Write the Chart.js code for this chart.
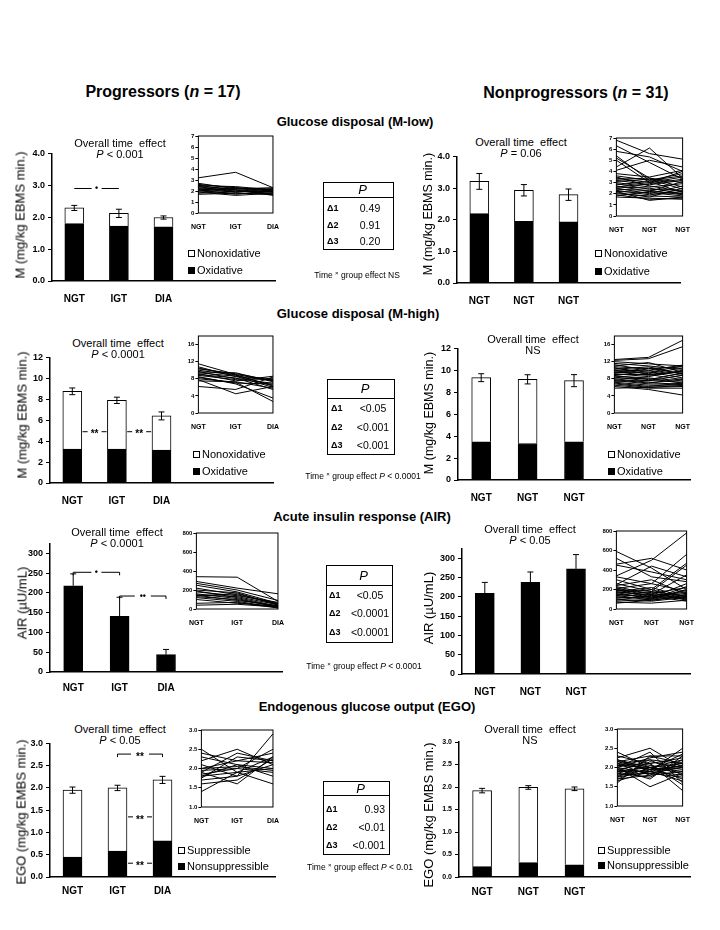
<!DOCTYPE html>
<html>
<head>
<meta charset="utf-8">
<script src="https://cdn.jsdelivr.net/npm/chart.js@4.4.1/dist/chart.umd.min.js"></script>
<style>
  body { margin: 0; background: #fff; }
  #page { position: relative; width: 720px; height: 930px; overflow: hidden; background: #fff;
          font-family: "Liberation Sans", Arial, Helvetica, sans-serif; color: #000; }
  .t { position: absolute; white-space: nowrap; line-height: 1; }
  .sq { position: absolute; width: 7px; height: 7px; border: 1px solid #000; box-sizing: border-box; }
  .tbl { position: absolute; border: 1px solid #000; box-sizing: border-box; }
  .hl { position: absolute; height: 0; border-top: 1px solid #000; }
  canvas { position: absolute; }
</style>
</head>
<body>
<div id="page"></div>
<script>
// ---- data -------------------------------------------------------------
const progCats = ['NGT', 'IGT', 'DIA'];
const nonprogCats = ['NGT', 'NGT', 'NGT'];

// Glucose disposal, M-low (mg/kg EBMS min)
const progMLowTotal = [2.29, 2.12, 1.99];
const progMLowOx = [1.80, 1.72, 1.70];
const progMLowErr = [0.08, 0.13, 0.05];
const nonprogMLowTotal = [3.21, 2.93, 2.79];
const nonprogMLowOx = [2.19, 1.95, 1.93];
const nonprogMLowErr = [0.25, 0.18, 0.18];

// Glucose disposal, M-high
const progMHighTotal = [8.76, 7.90, 6.41];
const progMHighOx = [3.24, 3.24, 3.14];
const progMHighErr = [0.32, 0.30, 0.38];
const nonprogMHighTotal = [9.33, 9.18, 9.06];
const nonprogMHighOx = [3.48, 3.33, 3.48];
const nonprogMHighErr = [0.36, 0.42, 0.55];

// Acute insulin response (µU/mL)
const progAir = [218, 141, 44];
const progAirErr = [30, 48, 13];
const nonprogAir = [209, 237, 272];
const nonprogAirErr = [28, 27, 37];

// Endogenous glucose output
const progEgoTotal = [1.95, 2.00, 2.18];
const progEgoNonsup = [0.45, 0.58, 0.81];
const progEgoErr = [0.07, 0.06, 0.08];
const nonprogEgoTotal = [1.92, 1.99, 1.96];
const nonprogEgoNonsup = [0.23, 0.32, 0.27];
const nonprogEgoErr = [0.05, 0.04, 0.04];

// individual subjects (insets)
const progMLowSubjects = [
  [3.2, 3.7, 2.3], [2.7, 2.2, 2.0], [2.6, 2.3, 2.1], [2.5, 2.1, 1.9], [2.4, 2.2, 2.2],
  [2.3, 2.0, 1.8], [2.2, 1.9, 2.0], [2.1, 2.3, 2.0], [2.0, 1.8, 1.7], [1.9, 1.6, 1.8],
  [1.8, 2.0, 1.9], [2.5, 2.4, 2.1], [2.2, 2.1, 1.6], [2.0, 2.2, 2.3], [1.7, 1.8, 1.7],
  [2.4, 1.9, 2.2], [2.1, 1.7, 2.0]
];
const nonprogMLowSubjects = [
  [6.8, 5.6, 5.1], [6.3, 4.8, 3.3], [5.8, 5.3, 4.0], [5.4, 3.2, 3.6], [5.2, 3.4, 3.0],
  [5.0, 3.0, 4.0], [4.4, 6.1, 3.4], [4.1, 5.0, 4.4], [3.8, 3.5, 4.1], [3.6, 3.2, 3.8],
  [3.4, 3.0, 3.5], [3.3, 3.4, 2.6], [3.2, 2.8, 3.2], [3.1, 3.3, 2.4], [3.0, 2.6, 2.9],
  [2.9, 2.4, 2.3], [2.8, 3.1, 2.1], [2.7, 2.2, 3.1], [2.6, 2.5, 2.0], [2.5, 2.0, 2.7],
  [2.4, 2.3, 1.9], [2.3, 1.9, 2.2], [2.2, 2.1, 1.8], [2.1, 1.7, 2.5], [2.0, 1.8, 1.7],
  [1.9, 1.5, 1.6], [1.8, 2.2, 2.0], [1.7, 1.6, 1.5], [2.6, 2.9, 3.3], [3.5, 2.7, 2.2],
  [2.2, 1.4, 1.7]
];
const progMHighSubjects = [
  [11.5, 9.0, 7.5], [10.8, 8.5, 8.0], [10.3, 9.2, 7.6], [10.0, 8.8, 6.5], [9.7, 8.0, 7.8],
  [9.4, 8.6, 6.0], [9.2, 7.5, 8.6], [9.0, 8.2, 5.5], [8.8, 7.8, 7.0], [8.5, 6.8, 3.5],
  [8.3, 7.0, 6.8], [8.0, 7.2, 2.7], [7.8, 4.5, 6.2], [9.6, 9.4, 7.3], [7.5, 7.3, 5.8],
  [6.2, 5.5, 8.4], [10.5, 8.9, 6.3]
];
const nonprogMHighSubjects = [
  [12.5, 13.0, 17.0], [12.3, 12.7, 15.5], [12.0, 11.5, 11.0], [11.6, 11.0, 10.2], [11.3, 10.0, 11.2],
  [11.0, 11.8, 9.5], [10.8, 10.4, 10.8], [10.5, 9.5, 11.0], [10.2, 10.8, 9.0], [10.0, 9.2, 10.5],
  [9.8, 10.0, 8.7], [9.6, 8.8, 9.8], [9.4, 9.6, 8.2], [9.2, 8.5, 10.0], [9.0, 9.0, 7.8],
  [8.8, 7.8, 9.3], [8.6, 8.2, 7.5], [8.4, 7.5, 8.8], [8.2, 8.0, 7.0], [8.0, 7.2, 6.6],
  [7.8, 7.0, 8.0], [7.6, 6.8, 6.8], [7.4, 7.6, 7.2], [7.2, 6.5, 6.5], [7.0, 6.2, 7.0],
  [6.8, 6.0, 6.2], [6.5, 5.8, 5.8], [6.2, 5.5, 4.2], [5.8, 6.0, 6.4], [10.6, 9.0, 9.6],
  [9.5, 10.5, 9.2]
];
const progAirSubjects = [
  [340, 335, 80], [290, 220, 160], [270, 200, 90], [250, 180, 60], [220, 150, 50],
  [200, 170, 40], [190, 120, 30], [180, 140, 70], [160, 110, 20], [150, 130, 45],
  [145, 90, 35], [140, 160, 55], [130, 100, 25], [120, 80, 15], [100, 60, 30],
  [60, 70, 10], [40, 50, 20]
];
const nonprogAirSubjects = [
  [590, 420, 200], [520, 330, 280], [460, 520, 400], [450, 380, 300], [340, 500, 780],
  [330, 260, 560], [300, 200, 470], [260, 180, 450], [250, 440, 330], [240, 300, 150],
  [230, 150, 350], [220, 120, 260], [210, 260, 180], [200, 180, 130], [190, 160, 220],
  [180, 220, 120], [175, 140, 170], [170, 100, 230], [160, 200, 100], [150, 120, 160],
  [145, 170, 90], [140, 90, 140], [130, 150, 110], [120, 110, 200], [110, 130, 80],
  [100, 80, 120], [90, 140, 100], [80, 100, 150], [70, 60, 90], [60, 90, 130],
  [200, 110, 190]
];
const progEgoSubjects = [
  [2.5, 1.9, 2.3], [2.3, 2.1, 1.8], [2.2, 2.5, 2.1], [2.1, 1.8, 2.9], [2.0, 2.2, 2.4],
  [1.95, 2.0, 2.5], [1.9, 2.4, 2.2], [1.9, 1.6, 2.3], [1.85, 2.0, 1.9], [1.8, 2.1, 2.0],
  [1.8, 1.9, 1.6], [1.75, 2.3, 2.2], [1.7, 1.8, 2.1], [2.0, 2.05, 1.95], [1.6, 1.7, 2.25],
  [1.4, 1.9, 2.0], [2.4, 2.2, 2.15]
];
const nonprogEgoSubjects = [
  [2.4, 2.0, 1.7], [2.3, 2.1, 1.4], [2.25, 2.5, 2.0], [2.2, 1.9, 2.5], [2.15, 2.3, 2.3],
  [2.1, 1.8, 2.2], [2.1, 2.2, 2.1], [2.05, 2.0, 1.9], [2.0, 1.5, 1.85], [2.0, 2.4, 1.6],
  [1.95, 2.1, 2.25], [1.9, 1.9, 2.05], [1.9, 2.2, 1.8], [1.85, 1.75, 2.15], [1.85, 2.05, 1.95],
  [1.8, 1.95, 2.35], [1.8, 1.85, 1.75], [1.75, 2.15, 2.0], [1.7, 1.8, 1.9], [1.7, 2.0, 2.2],
  [1.65, 1.9, 1.65], [1.6, 2.3, 2.1], [2.0, 1.85, 2.0], [2.2, 2.0, 1.85], [1.95, 1.7, 2.3],
  [2.05, 2.1, 1.55], [1.9, 2.0, 2.1], [2.1, 1.95, 2.0], [1.75, 1.9, 1.8], [2.0, 2.25, 2.4],
  [2.15, 1.95, 2.05]
];

// P values of the contrasts
const deltaLabels = ['Δ1', 'Δ2', 'Δ3'];
const mLowP = ['0.49', '0.91', '0.20'];
const mHighP = ['<0.05', '<0.001', '<0.001'];
const airP = ['<0.05', '<0.0001', '<0.0001'];
const egoP = ['0.93', '<0.01', '<0.001'];

// ---- helpers ----------------------------------------------------------
const FONT = '"Liberation Sans", Arial, Helvetica, sans-serif';
Chart.defaults.font.family = FONT;
Chart.defaults.color = '#000';
const page = document.getElementById('page');

function txt(html, x, y, size, o = {}) {
    const d = document.createElement('div');
    d.className = 't';
    d.innerHTML = html;
    d.style.fontSize = size + 'px';
    if (o.bold) d.style.fontWeight = 'bold';
    d.style.left = x + 'px';
    const a = o.align || 'center';
    if (o.rot) {
        d.style.top = y + 'px';
        d.style.transform = 'translate(-50%,-50%) rotate(-90deg)';
    } else {
        d.style.top = (y - size * 0.5) + 'px';
        if (a === 'center') d.style.transform = 'translateX(-50%)';
        if (a === 'right') d.style.transform = 'translateX(-100%)';
    }
    page.appendChild(d);
    return d;
}

function legendItem(x, y, label, filled) {
    const s = document.createElement('div');
    s.className = 'sq';
    s.style.left = x + 'px';
    s.style.top = (y - 3.5) + 'px';
    s.style.background = filled ? '#000' : '#fff';
    page.appendChild(s);
    txt(label, x + 9, y, 11, { align: 'left' });
}

function table(b, vals) {
    const box = document.createElement('div');
    box.className = 'tbl';
    box.style.cssText += `left:${b.x0}px;top:${b.y0}px;width:${b.x1 - b.x0}px;height:${b.y1 - b.y0}px`;
    page.appendChild(box);
    const hl = document.createElement('div');
    hl.className = 'hl';
    hl.style.cssText += `left:${b.x0}px;top:${b.head}px;width:${b.x1 - b.x0}px`;
    page.appendChild(hl);
    txt('<i>P</i>', (b.x0 + b.x1) / 2 + 4, (b.y0 + b.head) / 2, 13);
    vals.forEach((v, i) => {
        txt(deltaLabels[i], b.dx, b.rows[i], 9, { bold: true, align: 'left' });
        txt(v, b.vx, b.rows[i], 10.5, { align: b.valign || 'center' });
    });
}

function addCanvas(left, top, w, h) {
    const cv = document.createElement('canvas');
    cv.width = w; cv.height = h;
    cv.style.left = left + 'px';
    cv.style.top = top + 'px';
    cv.style.width = w + 'px';
    cv.style.height = h + 'px';
    page.appendChild(cv);
    return cv;
}

function errPlugin(p) {
    return {
        id: 'errbars',
        afterDatasetsDraw(chart) {
            const ctx = chart.ctx, ys = chart.scales.y;
            const meta = chart.getDatasetMeta(chart.data.datasets.length - 1);
            ctx.save();
            ctx.strokeStyle = '#000';
            ctx.lineWidth = 1;
            p.err.forEach((e, i) => {
                const x = meta.data[i].x;
                const yt = ys.getPixelForValue(p.total[i] + e);
                const yb = ys.getPixelForValue(p.both ? p.total[i] - e : p.total[i]);
                ctx.beginPath();
                ctx.moveTo(x, yb); ctx.lineTo(x, yt);
                ctx.moveTo(x - 3, yt); ctx.lineTo(x + 3, yt);
                if (p.both) { ctx.moveTo(x - 3, yb); ctx.lineTo(x + 3, yb); }
                ctx.stroke();
            });
            ctx.restore();
        }
    };
}

// significance brackets and dashes, placed with the chart's own scales
function marksPlugin(marks) {
    return {
        id: 'marks',
        afterDatasetsDraw(chart) {
            const ctx = chart.ctx, xs = chart.scales.x, ys = chart.scales.y;
            ctx.save();
            ctx.strokeStyle = '#000';
            ctx.fillStyle = '#000';
            ctx.lineWidth = 1;
            ctx.textAlign = 'center';
            ctx.textBaseline = 'middle';
            marks.forEach(m => {
                const a = xs.getPixelForValue(m.from), b = xs.getPixelForValue(m.to);
                const yy = ys.getPixelForValue(m.v);
                const mid = (a + b) / 2;
                ctx.beginPath();
                if (m.kind === 'bracket') {
                    ctx.moveTo(a, yy); ctx.lineTo(mid - m.gap, yy);
                    ctx.moveTo(mid + m.gap, yy); ctx.lineTo(b, yy);
                    if (m.ends) {
                        ctx.moveTo(a, yy); ctx.lineTo(a, yy + 3);
                        ctx.moveTo(b, yy); ctx.lineTo(b, yy + 3);
                    }
                } else {
                    ctx.moveTo(mid - 12, yy); ctx.lineTo(mid - 7, yy);
                    ctx.moveTo(mid + 7, yy); ctx.lineTo(mid + 12, yy);
                }
                ctx.stroke();
                const star = m.label.indexOf('*') >= 0;
                ctx.font = (star ? 'bold 10px ' : 'bold 9px ') + FONT;
                ctx.fillText(m.label, mid, yy + (star ? 3 : 0));
            });
            ctx.restore();
        }
    };
}

const boxPlugin = {
    id: 'box',
    afterDraw(chart) {
        const { ctx, chartArea: c } = chart;
        ctx.save();
        ctx.strokeStyle = '#000';
        ctx.lineWidth = 1;
        ctx.strokeRect(c.left, c.top, c.right - c.left, c.bottom - c.top);
        ctx.restore();
    }
};

function barChart(p) {
    const padL = 40, padT = 8, padR = 6, padB = 30;
    const cv = addCanvas(p.x0 - padL, p.y0 - padT, p.x1 - p.x0 + padL + padR, p.y1 - p.y0 + padT + padB);
    const labels = p.cats.concat(['', '']);
    const sets = p.low
        ? [{ data: p.low, backgroundColor: '#000' },
           { data: p.total.map((t, i) => t - p.low[i]), backgroundColor: '#fff' }]
        : [{ data: p.total, backgroundColor: '#000' }];
    new Chart(cv, {
        type: 'bar',
        data: {
            labels,
            datasets: sets.map(d => ({ ...d, borderColor: '#000', borderWidth: 1, barThickness: 19 }))
        },
        options: {
            responsive: false,
            animation: false,
            events: [],
            layout: { padding: { left: 0, top: padT, right: padR, bottom: 0 } },
            plugins: { legend: { display: false }, tooltip: { enabled: false } },
            scales: {
                x: {
                    stacked: true,
                    grid: { display: false, drawTicks: false },
                    border: { color: '#000', width: 1.5 },
                    ticks: { font: { size: 10, weight: 'bold' }, padding: p.xPad, maxRotation: 0, autoSkip: false },
                    afterFit: s => { s.height = padB; }
                },
                y: {
                    stacked: true,
                    min: 0,
                    max: p.max,
                    grid: { drawOnChartArea: false, tickLength: 4, color: '#000' },
                    border: { color: '#000', width: 1.5 },
                    ticks: {
                        stepSize: p.step,
                        includeBounds: false,
                        font: { size: p.tick || 9, weight: 'bold' },
                        padding: 3,
                        callback: v => p.dec ? v.toFixed(p.dec) : v
                    },
                    afterFit: s => { s.width = padL; }
                }
            }
        },
        plugins: [errPlugin(p), marksPlugin(p.marks || [])]
    });
}

function inset(p) {
    const padL = 14, padT = 6, padR = 12, padB = 20;
    const cv = addCanvas(p.x0 - padL, p.y0 - padT, p.x1 - p.x0 + padL + padR, p.y1 - p.y0 + padT + padB);
    new Chart(cv, {
        type: 'line',
        data: {
            labels: p.cats,
            datasets: p.lines.map(l => ({
                data: l, borderColor: '#000', borderWidth: 1, pointRadius: 0, fill: false, tension: 0
            }))
        },
        options: {
            responsive: false,
            animation: false,
            events: [],
            layout: { padding: { left: 0, top: padT, right: padR, bottom: 0 } },
            plugins: { legend: { display: false }, tooltip: { enabled: false } },
            scales: {
                x: {
                    offset: false,
                    grid: { display: false, drawTicks: false },
                    border: { display: false },
                    ticks: { font: { size: 7, weight: 'bold' }, padding: 10, maxRotation: 0, autoSkip: false },
                    afterFit: s => { s.height = padB; }
                },
                y: {
                    min: p.min,
                    max: p.max,
                    grid: { drawOnChartArea: false, tickLength: 3, color: '#000' },
                    border: { display: false },
                    ticks: {
                        stepSize: p.step,
                        includeBounds: false,
                        font: { size: 6, weight: 'bold' },
                        padding: 1,
                        callback: v => p.dec ? v.toFixed(p.dec) : v
                    },
                    afterFit: s => { s.width = padL; }
                }
            }
        },
        plugins: [boxPlugin]
    });
}

// ---- headings -----------------------------------------------------------
txt('Progressors (<i>n</i> = 17)', 163, 92, 16, { bold: true });
txt('Nonprogressors (<i>n</i> = 31)', 576, 93, 16, { bold: true });
txt('Glucose disposal (M-low)', 355, 121, 13, { bold: true });
txt('Glucose disposal (M-high)', 358, 313, 13, { bold: true });
txt('Acute insulin response (AIR)', 362, 516, 13, { bold: true });
txt('Endogenous glucose output (EGO)', 367, 706, 13, { bold: true });

const ote = 'Overall time&nbsp; effect';
const mTitle = 'M (mg/kg EBMS min.)';
const egoTitle = 'EGO (mg/kg EMBS min.)';
const timeX = 'Time <span style="font-size:6px;position:relative;top:-3px">×</span> group effect ';

// ---- Glucose disposal (M-low) -------------------------------------------
barChart({ x0: 52, x1: 275, y0: 153, y1: 281, max: 4, step: 1, dec: 1, xPad: 12,
    cats: progCats, total: progMLowTotal, low: progMLowOx, err: progMLowErr, both: true,
    marks: [{ kind: 'bracket', from: 0, to: 1, v: 2.9, gap: 5, label: '•' }] });
inset({ x0: 195, x1: 277, y0: 136, y1: 213, min: 0, max: 7, step: 1, cats: progCats, lines: progMLowSubjects });
txt(ote, 120, 143, 11); txt('<i>P</i> &lt; 0.001', 120, 154, 11);
txt(mTitle, 20, 215, 13, { rot: true });
legendItem(188, 253, 'Nonoxidative', false); legendItem(188, 270, 'Oxidative', true);

barChart({ x0: 457, x1: 680, y0: 156, y1: 283, max: 4, step: 1, dec: 1, xPad: 12,
    cats: nonprogCats, total: nonprogMLowTotal, low: nonprogMLowOx, err: nonprogMLowErr, both: true });
inset({ x0: 613, x1: 688, y0: 138, y1: 216, min: 0, max: 7, step: 1, cats: nonprogCats, lines: nonprogMLowSubjects });
txt(ote, 521, 142, 11); txt('<i>P</i> = 0.06', 521, 153, 11);
txt(mTitle, 428, 214, 12.5, { rot: true });
legendItem(595, 253, 'Nonoxidative', false); legendItem(595, 271, 'Oxidative', true);

table({ x0: 323, x1: 394, y0: 182, y1: 250, head: 197, rows: [208, 225, 241], dx: 327, vx: 370 }, mLowP);
txt(timeX + 'NS', 357, 275, 8.5);

// ---- Glucose disposal (M-high) ------------------------------------------
barChart({ x0: 50, x1: 273, y0: 357, y1: 483, max: 12, step: 2, xPad: 12,
    cats: progCats, total: progMHighTotal, low: progMHighOx, err: progMHighErr, both: true,
    marks: [{ kind: 'dash', from: 0, to: 1, v: 4.9, label: '**' }, { kind: 'dash', from: 1, to: 2, v: 4.9, label: '**' }] });
inset({ x0: 195, x1: 277, y0: 336, y1: 413, min: 0, max: 18, step: 4, cats: progCats, lines: progMHighSubjects });
txt(ote, 118, 343, 11); txt('<i>P</i> &lt; 0.0001', 118, 354, 11);
txt(mTitle, 22, 415, 13, { rot: true });
legendItem(193, 454, 'Nonoxidative', false); legendItem(193, 471, 'Oxidative', true);

barChart({ x0: 458, x1: 690, y0: 348, y1: 480, max: 12, step: 2, xPad: 12,
    cats: nonprogCats, total: nonprogMHighTotal, low: nonprogMHighOx, err: nonprogMHighErr, both: true });
inset({ x0: 611, x1: 688, y0: 336, y1: 413, min: 0, max: 18, step: 4, cats: nonprogCats, lines: nonprogMHighSubjects });
txt(ote, 533, 339, 11); txt('NS', 533, 350, 11);
txt(mTitle, 429, 413, 12.5, { rot: true });
legendItem(608, 454, 'Nonoxidative', false); legendItem(608, 471, 'Oxidative', true);

table({ x0: 327, x1: 395, y0: 379, y1: 455, head: 398, rows: [408, 427, 445], dx: 331, vx: 373 }, mHighP);
txt(timeX + '<i>P</i> &lt; 0.0001', 363, 476, 8.5);

// ---- Acute insulin response (AIR) ----------------------------------------
barChart({ x0: 50, x1: 282, y0: 543, y1: 672, max: 325, step: 50, xPad: 10,
    cats: progCats, total: progAir, err: progAirErr, both: false,
    marks: [{ kind: 'bracket', from: 0, to: 1, v: 252, gap: 5, ends: true, label: '•' },
            { kind: 'bracket', from: 1, to: 2, v: 192, gap: 8, ends: true, label: '••' }] });
inset({ x0: 193, x1: 282, y0: 533, y1: 609, min: 0, max: 800, step: 200, cats: progCats, lines: progAirSubjects });
txt(ote, 117, 532, 11); txt('<i>P</i> &lt; 0.0001', 117, 543, 11);
txt('AIR (µU/mL)', 22, 603, 13, { rot: true });

barChart({ x0: 462, x1: 690, y0: 548, y1: 674, max: 325, step: 50, xPad: 12,
    cats: nonprogCats, total: nonprogAir, err: nonprogAirErr, both: false });
inset({ x0: 613, x1: 692, y0: 531, y1: 609, min: 0, max: 800, step: 200, cats: nonprogCats, lines: nonprogAirSubjects });
txt(ote, 530, 529, 11); txt('<i>P</i> &lt; 0.05', 530, 540, 11);
txt('AIR (µU/mL)', 428, 608, 13, { rot: true });

table({ x0: 326, x1: 393, y0: 565, y1: 643, head: 585, rows: [595, 613, 632], dx: 329, vx: 370 }, airP);
txt(timeX + '<i>P</i> &lt; 0.0001', 364, 666, 8.5);

// ---- Endogenous glucose output (EGO) ------------------------------------
barChart({ x0: 50, x1: 275, y0: 743, y1: 877, max: 3, step: 0.5, dec: 1, xPad: 8,
    cats: progCats, total: progEgoTotal, low: progEgoNonsup, err: progEgoErr, both: true,
    marks: [{ kind: 'bracket', from: 1, to: 2, v: 2.76, gap: 9, ends: true, label: '**' },
            { kind: 'dash', from: 1, to: 2, v: 1.35, label: '**' },
            { kind: 'dash', from: 1, to: 2, v: 0.31, label: '**' }] });
inset({ x0: 198, x1: 277, y0: 730, y1: 807, min: 1, max: 3, step: 0.5, dec: 1, cats: progCats, lines: progEgoSubjects });
txt(ote, 120, 729, 11); txt('<i>P</i> &lt; 0.05', 120, 740, 11);
txt(egoTitle, 21, 812, 13, { rot: true });
legendItem(178, 850, 'Suppressible', false); legendItem(178, 866, 'Nonsuppressible', true);

barChart({ x0: 459, x1: 690, y0: 742, y1: 877, max: 3, step: 0.5, dec: 1, xPad: 9, tick: 7,
    cats: nonprogCats, total: nonprogEgoTotal, low: nonprogEgoNonsup, err: nonprogEgoErr, both: true });
inset({ x0: 614, x1: 688, y0: 729, y1: 806, min: 1, max: 3, step: 0.5, dec: 1, cats: nonprogCats, lines: nonprogEgoSubjects });
txt(ote, 530, 729, 11); txt('NS', 530, 740, 11);
txt(egoTitle, 428, 815, 13, { rot: true });
legendItem(598, 850, 'Suppressible', false); legendItem(598, 865, 'Nonsuppressible', true);

table({ x0: 323, x1: 390, y0: 781, y1: 855, head: 795, rows: [809, 827, 845], dx: 326, vx: 385, valign: 'right' }, egoP);
txt(timeX + '<i>P</i> &lt; 0.01', 360, 867, 8.5);
</script>
</body>
</html>
